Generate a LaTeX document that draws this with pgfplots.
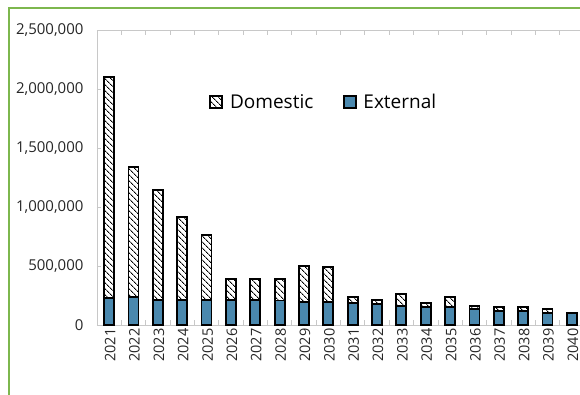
\documentclass[border=0pt]{standalone}
\usepackage{fontspec}
\setmainfont{Open Sans}
\usepackage{pgfplots}
\pgfplotsset{compat=1.18}
\usetikzlibrary{patterns.meta}

\definecolor{extblue}{HTML}{4A88AE}
\definecolor{framegreen}{HTML}{7DB74E}
\definecolor{gridgray}{HTML}{C8C8C8}

% Debt service by year: external and domestic parts
\pgfplotstableread{
x  year  external  domestic
0  2021  226000   1874000
1  2022  235000   1106000
2  2023  212000    932000
3  2024  212000    700000
4  2025  212000    548000
5  2026  209000    178000
6  2027  209000    181000
7  2028  207000    186000
8  2029  198000    302000
9  2030  192000    300000
10 2031  184000     53000
11 2032  175000     34000
12 2033  164000     99000
13 2034  155000     34000
14 2035  150000     90000
15 2036  133000     31000
16 2037  121000     34000
17 2038  119000     36000
18 2039  104000     34000
19 2040   99000         0
}\debt

\begin{document}
\begin{tikzpicture}
\useasboundingbox (0,0) rectangle (580pt,394pt);
\clip (0,0) rectangle (580pt,394pt);
% outer frame of the chart area
\draw[framegreen, line width=1.6pt] (9pt,-5pt) -- (9pt,386pt) -- (590pt,386pt);
\begin{axis}[
  at={(97pt,69pt)}, anchor=south west,
  scale only axis,
  width=487pt, height=295pt,
  ybar stacked,
  bar width=10pt,
  xmin=-0.5, xmax=19.5,
  ymin=0, ymax=2500000,
  ytick={0,500000,...,2500000},
  scaled y ticks=false,
  /pgf/number format/.cd, fixed, 1000 sep={,}, assume math mode=true,
  /pgfplots/.cd,
  xtick=data,
  xticklabels from table={\debt}{year},
  minor xtick={-0.5,0.5,...,19.5},
  major x tick style={draw=none},
  minor tick length=5pt,
  major tick length=4pt,
  tick align=inside,
  tick style={gridgray, line width=0.8pt},
  axis line style={gridgray, line width=0.9pt},
  x tick label style={rotate=90, anchor=east, font=\fontsize{14.5}{16}\selectfont, text=black!85, yshift=-1pt},
  y tick label style={font=\fontsize{15}{17}\selectfont, text=black!85, xshift=-10pt},
  legend columns=2,
  legend style={
    at={(rel axis cs:0.224,0.756)}, anchor=west,
    draw=none, fill=none,
    font=\fontsize{19}{22}\selectfont,
    /tikz/every even column/.append style={column sep=28pt},
  },
  legend cell align=left,
  legend image code/.code={
    \draw[#1, line width=1.8pt] (0pt,-6pt) rectangle (12pt,6pt);
    \path (17pt,0pt);
  },
]
\addplot+[draw=black, line width=1.8pt, fill=extblue, forget plot]
  table[x=x, y=external] {\debt};
\addplot+[draw=black, line width=1.8pt,
  pattern={Lines[angle=-45, distance=4pt, line width=0.9pt]}, pattern color=black]
  table[x=x, y=domestic] {\debt};
\addlegendentry{Domestic}
\addlegendimage{draw=black, fill=extblue}
\addlegendentry{External}
\end{axis}
\end{tikzpicture}
\end{document}
